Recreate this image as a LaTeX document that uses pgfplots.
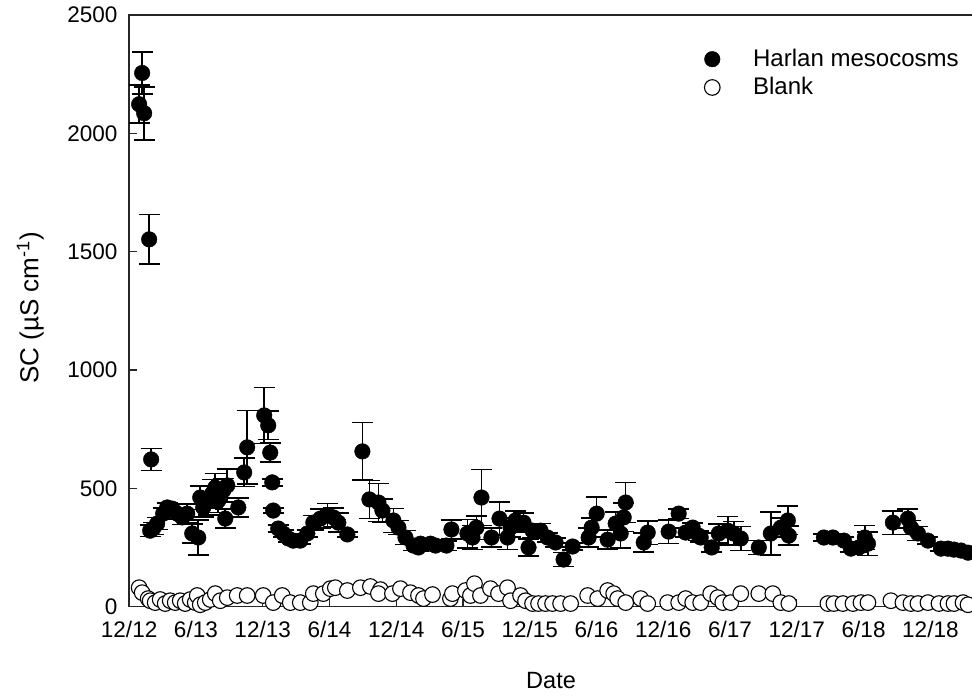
\documentclass[border=0pt]{standalone}
\usepackage{pgfplots}
\pgfplotsset{compat=1.18}
\usepackage{pgfplotstable}
\usepackage{fontspec}
\setmainfont{Liberation Sans}

\pgfplotstableread{
x y e
0.90 2123 80
1.17 2255 88
1.35 2085 112
1.80 1552 105
1.98 622 47
1.89 321 25
2.16 330 25
2.52 351 25
3.06 393 25
3.42 419 20
3.87 414 20
4.32 393 20
4.77 377 30
5.22 393 40
5.67 309 40
6.21 292 75
6.39 461 50
6.66 419 40
7.11 448 60
7.47 478 60
7.74 503 60
8.01 448 50
8.46 491 50
8.82 512 70
8.64 372 40
9.81 419 40
10.34 567 60
10.61 673 155
12.14 808 118
12.50 766 60
12.68 651 40
12.86 525 15
12.95 406 10
13.40 330 15
13.85 309 15
14.30 288 15
14.75 279 15
15.38 279 15
16.01 309 15
16.55 355 30
17.18 372 40
17.81 385 50
18.35 377 40
18.80 355 40
19.61 305 10
20.96 656 122
21.59 453 80
22.40 440 80
22.76 406 50
23.75 364 50
24.20 334 30
24.83 292 30
25.55 258 20
26.00 250 15
26.18 266 15
27.08 266 15
27.53 258 15
28.51 258 20
28.96 326 40
30.40 309 60
30.85 292 50
31.21 334 50
31.66 461 119
32.56 292 40
33.28 372 70
34.00 292 50
34.27 334 40
34.72 364 40
35.44 355 40
35.89 250 35
36.25 321 30
36.97 321 30
37.60 292 20
38.32 271 20
39.04 199 30
39.85 254 15
41.29 292 40
41.56 334 40
42.01 393 70
43.00 283 40
43.72 351 50
44.17 309 60
44.44 377 60
44.62 440 85
46.24 271 40
46.60 313 50
48.48 317 50
49.38 393 20
50.01 313 20
50.64 334 20
51.18 300 20
51.36 292 20
52.35 250 20
52.98 309 40
53.79 321 60
54.33 309 50
54.96 288 50
56.58 250 30
57.66 309 90
58.56 334 40
59.19 364 60
59.28 300 40
62.43 292 15
63.24 292 15
64.23 279 15
64.86 245 15
65.58 250 20
66.11 292 50
66.39 266 50
68.63 355 50
69.98 372 40
70.25 334 30
70.88 309 30
71.78 279 15
72.95 245 10
73.58 245 10
74.12 241 10
74.75 237 10
75.38 228 8
}\harlan

\pgfplotstableread{
x y
0.90 80
1.17 59
1.71 34
1.89 25
2.34 17
2.79 30
3.24 13
3.69 25
4.14 17
4.59 25
5.04 13
5.49 30
5.94 17
6.12 47
6.39 8
6.84 17
7.29 30
7.74 55
8.19 25
8.82 38
9.71 47
10.61 47
12.05 47
12.95 17
13.76 47
14.48 17
15.38 17
16.28 17
16.55 55
17.45 55
18.08 76
18.53 80
19.61 68
20.78 80
21.68 85
22.58 72
22.40 55
23.66 55
24.38 76
25.28 59
26.00 47
26.45 34
27.26 51
28.87 34
29.05 55
30.22 68
30.67 47
31.03 97
31.57 47
32.47 76
33.19 55
34.00 80
34.27 25
35.17 47
35.62 25
36.25 13
36.79 13
37.42 13
38.05 13
38.77 13
39.67 13
41.20 47
42.10 34
43.00 68
43.54 55
43.90 34
44.62 17
45.97 34
46.60 13
48.39 17
49.38 17
50.01 34
50.64 17
51.36 17
52.26 55
52.89 38
53.34 17
54.06 17
54.96 55
56.58 55
57.84 55
58.56 17
59.28 13
62.79 13
63.33 13
64.14 13
65.04 13
65.76 17
66.39 17
68.45 25
69.53 17
70.25 13
70.88 13
71.78 17
72.77 13
73.58 13
74.12 13
74.93 17
75.38 8
}\blank

\begin{document}
\fontsize{22.5}{27}\selectfont
\begin{tikzpicture}
\path[use as bounding box] (-129pt,-90pt) rectangle (842pt,606pt);
\begin{axis}[
  at={(0pt,0pt)}, anchor=south west,
  width=843pt, height=591pt, scale only axis,
  xmin=0, xmax=75.83, ymin=0, ymax=2500,
  axis line style={line width=1.3pt, black!85},
  tick style={line width=1.2pt, black!85},
  tick align=inside, major tick length=8pt,
  xtick pos=bottom, ytick pos=left,
  xtick={0,6,...,72},
  xticklabels={12/12,6/13,12/13,6/14,12/14,6/15,12/15,6/16,12/16,6/17,12/17,6/18,12/18},
  ytick={0,500,...,2500},
  xticklabel style={yshift=-7pt},
  yticklabel style={xshift=-4pt},
  /pgf/number format/assume math mode=true,
  /pgf/number format/1000 sep={},
  tick label style={font=\fontsize{22.5}{27}\selectfont},
  xlabel={Date},
  ylabel={SC (µS cm\textsuperscript{-1})},
  every axis x label/.style={at={(axis description cs:0.5,-0.125)}, anchor=center, font=\fontsize{23.5}{28}\selectfont},
  every axis y label/.style={at={(axis description cs:-0.117,0.505)}, rotate=90, anchor=center, font=\fontsize{26}{31}\selectfont},
  legend style={draw=none, fill=none, at={(axis description cs:0.678,0.95)}, anchor=north west,
    font=\fontsize{24}{29}\selectfont, row sep=3.5pt,
    /tikz/every odd column/.append style={column sep=31pt}},
  legend cell align=left,
  legend image code/.code={\draw[mark repeat=2,mark phase=2,#1] plot coordinates {(-6pt,0pt)(6pt,0pt)(18pt,0pt)};},
  clip=false,
]
\addplot[only marks, mark=*, mark size=7.8pt, black, mark options={fill=black},
  error bars/.cd, y dir=both, y explicit,
  error bar style={line width=1.6pt, black},
  error mark options={line width=1.6pt, mark size=10.5pt, rotate=90}]
  table[x=x, y=y, y error=e] {\harlan};
\addlegendentry{Harlan mesocosms}
\addplot[only marks, mark=*, mark size=7.8pt, black, mark options={fill=white, line width=1.1pt}]
  table[x=x, y=y] {\blank};
\addlegendentry{Blank}
\end{axis}
\end{tikzpicture}
\end{document}
